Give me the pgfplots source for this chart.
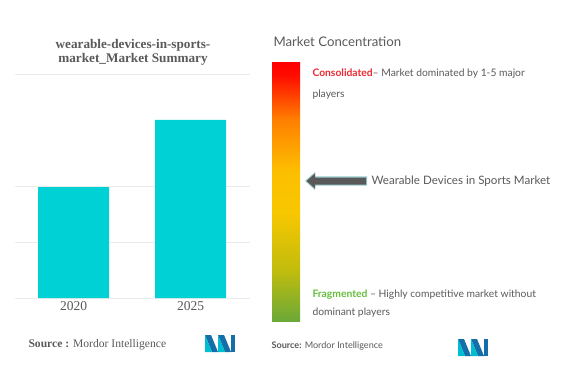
\documentclass[border=0pt]{standalone}
\usepackage{pgfplots}
\pgfplotsset{compat=1.18}
\usepackage{fontspec}
\setmainfont{Liberation Serif}
\newfontfamily\sans{Lato}
\definecolor{barc}{RGB}{0,209,212}
\definecolor{txtg}{RGB}{90,90,90}
\definecolor{gridc}{RGB}{235,235,235}
\definecolor{logoa}{RGB}{0,190,210}
\definecolor{logob}{RGB}{20,110,170}
\pgfdeclareverticalshading{conc}{100bp}{rgb(0bp)=(0.42,0.66,0.22); rgb(25bp)=(0.42,0.66,0.22); rgb(35bp)=(0.76,0.74,0.05); rgb(46bp)=(0.97,0.78,0); rgb(54bp)=(0.99,0.75,0); rgb(64bp)=(1,0.5,0); rgb(72.5bp)=(1,0.05,0); rgb(75bp)=(1,0,0); rgb(100bp)=(1,0,0)}
\newcommand{\logo}[2]{%
  \begin{scope}[shift={(#1,#2)}]
    \fill[logob] (0,0) -- (6,0) -- (13,-17) -- (7,-17) -- cycle;
    \fill[logoa] (0,0) -- (0,-17) -- (7,-17) -- cycle;
    \fill[logob] (13,0) -- (19,0) -- (26,-17) -- (20,-17) -- cycle;
    \fill[logoa] (13,0) -- (13,-17) -- (20,-17) -- cycle;
    \fill[logob] (26,0) -- (30,0) -- (30,-17) -- (26,-17) -- cycle;
  \end{scope}}
\begin{document}
\begin{tikzpicture}[x=1pt,y=1pt]
\fill[white] (0,0) rectangle (577,367);
% left title
\node[font=\bfseries\fontsize{13.2}{15}\selectfont, text=txtg, align=center] at (133,367-52) {wearable-devices-in-sports-\\[-1pt]market\_Market Summary};
\draw[gridc, line width=0.6pt] (15,367-74) -- (250,367-74);
\begin{axis}[
  at={(15pt,69pt)}, anchor=south west,
  width=235pt, height=224pt, scale only axis,
  xmin=15, xmax=250, ymin=0, ymax=4,
  axis line style={draw=none},
  ytick={0,1,2}, yticklabels={}, ymajorgrids, grid style={gridc, line width=0.6pt},
  major tick length=0pt,
  xtick={73.5,190.5}, xticklabels={2020,2025},
  xticklabel style={font=\fontsize{13.5}{15}\selectfont, text=txtg},
  ]
\addplot[ybar, bar width=71, fill=barc, draw=none] coordinates {(73.5,1.98) (190.5,3.18)};
\end{axis}
\node[anchor=west, font=\fontsize{11.6}{13}\selectfont, text=txtg] at (25,367-345) {\textbf{Source :} Mordor Intelligence};
\logo{205}{367-335}
% right panel
\node[anchor=west, font=\sans\fontsize{13.2}{15}\selectfont, text=txtg] at (270,367-42) {Market Concentration};
\shade[shading=conc] (272,367-321) rectangle (300,367-63);
\node[anchor=west, font=\sans\fontsize{10.3}{12}\selectfont, text=txtg] at (309,367-74) {\textcolor[RGB]{240,40,50}{\bfseries Consolidated}– Market dominated by 1-5 major};
\node[anchor=west, font=\sans\fontsize{10.3}{12}\selectfont, text=txtg] at (309,367-95) {players};
\fill[teal!40] (305,367-181) -- (315,367-172) -- (315,367-176.5) -- (367,367-176.5) -- (367,367-185.5) -- (315,367-185.5) -- (315,367-190) -- cycle;
\fill[black!65] (306.5,367-181) -- (315,367-173.5) -- (315,367-177.5) -- (366,367-177.5) -- (366,367-184.5) -- (315,367-184.5) -- (315,367-188.5) -- cycle;
\node[anchor=west, font=\sans\fontsize{11.6}{13}\selectfont, text=txtg] at (368,367-181) {Wearable Devices in Sports Market};
\node[anchor=west, font=\sans\fontsize{10.3}{12}\selectfont, text=txtg] at (309,367-295) {\textcolor[RGB]{100,190,60}{\bfseries Fragmented} – Highly competitive market without};
\node[anchor=west, font=\sans\fontsize{10.3}{12}\selectfont, text=txtg] at (309,367-313) {dominant players};
\node[anchor=west, font=\sans\fontsize{9.1}{10}\selectfont, text=txtg] at (268,367-346) {\textbf{Source:} Mordor Intelligence};
\logo{458}{367-339}
\end{tikzpicture}
\end{document}
